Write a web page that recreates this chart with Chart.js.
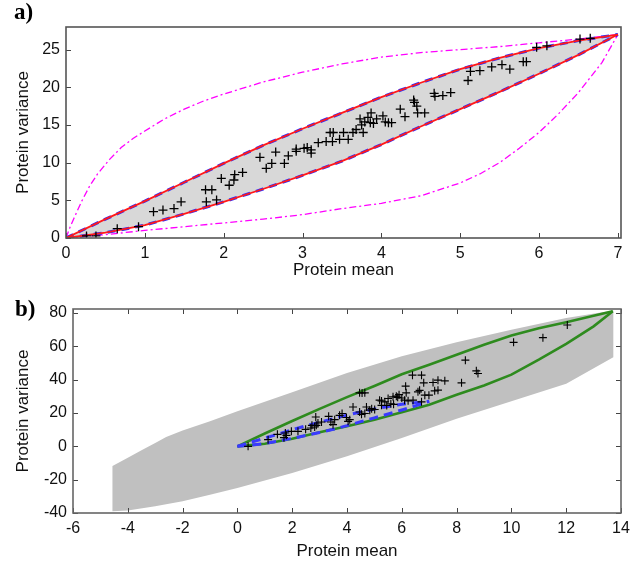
<!DOCTYPE html>
<html>
<head>
<meta charset="utf-8">
<script src="https://cdn.jsdelivr.net/npm/chart.js@4.4.1/dist/chart.umd.min.js"></script>
<style>
  html, body { margin: 0; padding: 0; background: #fff; }
  #wrap { position: relative; width: 644px; height: 564px; overflow: hidden; }
  canvas { position: absolute; left: 0; }
  .lab { position: absolute; font-family: "Liberation Serif", "Times New Roman", serif; font-weight: bold; font-size: 23px; color: #000; }
</style>
</head>
<body>
<div id="wrap">
  <canvas id="ca" width="644" height="282" style="top:0px"></canvas>
  <canvas id="cb" width="644" height="274" style="top:290px"></canvas>
  <div class="lab" style="left:14px; top:-1px;">a)</div>
  <div class="lab" style="left:15px; top:296px;">b)</div>
</div>
<script>
// ---------------- Panel a data ----------------
const aTicksX = [0, 1, 2, 3, 4, 5, 6, 7];
const aTicksY = [0, 5, 10, 15, 20, 25];

const aMean = [0.26,0.38,0.65,0.92,1.11,1.23,1.37,1.46,1.77,1.85,1.78,1.91,1.97,2.07,2.13,2.14,2.24,2.46,2.54,2.61,2.66,2.77,2.82,2.92,2.92,3.02,3.06,3.11,3.11,3.2,3.3,3.35,3.39,3.38,3.47,3.52,3.58,3.64,3.68,3.73,3.77,3.75,3.79,3.83,3.87,3.86,3.9,3.94,4.02,4.05,4.09,4.13,4.24,4.3,4.41,4.42,4.45,4.46,4.55,4.67,4.68,4.78,4.88,5.1,5.13,5.25,5.4,5.53,5.63,5.8,5.84,5.97,6.1,6.52,6.65];
const aVar  = [0.27,0.27,1.24,1.5,3.5,3.7,3.9,4.8,6.4,6.4,4.8,5.05,7.9,7.0,7.7,8.4,8.7,10.7,9.25,9.9,11.4,9.9,10.9,11.5,11.8,11.9,12.0,11.25,11.7,12.65,12.8,14.0,14.0,12.8,13.1,14.0,13.1,14.0,14.4,15.8,14.0,15.0,15.4,16.0,16.6,15.3,15.2,15.8,16.2,15.4,15.3,15.3,17.1,16.1,18.3,18.0,17.5,16.6,16.6,19.2,18.8,18.9,19.3,20.9,22.1,22.2,22.7,23.0,22.4,23.4,23.4,25.3,25.5,26.4,26.5];

const boundX     = [0,0.5,1,1.5,2,2.5,3,3.5,4,4.5,5,5.5,6,6.5,7];
const boundUpper = [0,2.5,4.9,7.4,9.9,12.3,14.5,16.6,18.7,20.6,22.4,23.9,25.2,26.2,27];
const boundLower = [0,0.7,1.7,3.2,4.8,6.5,8.3,10.2,12.4,14.8,17.1,19.4,21.8,24.3,27];

const magUpX = [0,0.05,0.1,0.2,0.3,0.4,0.55,0.7,0.85,1,1.25,1.5,1.75,2,2.5,3,3.5,4,4.5,5,5.5,6,6.5,7];
const magUpY = [0,1.4,2.6,4.9,6.9,8.5,10.4,12,13.2,14.2,15.8,17.1,18.2,19.1,20.7,22,23.1,24,24.6,25,25.4,25.9,26.4,27];
const magLoX = [0,0.5,1,1.5,2,2.5,3,3.5,4,4.5,5,5.25,5.5,5.75,6,6.25,6.5,6.8,7];
const magLoY = [0,0.45,1.0,1.5,2.0,2.5,3.1,3.9,4.6,5.6,7.3,8.5,10,11.9,14,16.5,19.3,23.3,27];

// ---------------- Panel b data ----------------
const bTicksX = [-6,-4,-2,0,2,4,6,8,10,12,14];
const bTicksY = [-40,-20,0,20,40,60,80];

const bMean = [0.39,1.12,1.46,1.7,1.79,1.75,1.97,2.21,2.49,2.68,2.72,2.82,2.88,2.86,2.94,3.07,3.33,3.41,3.49,3.55,3.73,3.82,3.98,4.1,4.04,4.22,4.46,4.53,4.65,4.71,4.83,4.46,4.65,4.55,5.01,5.26,5.26,5.19,5.38,5.5,5.68,5.8,5.85,6.14,6.16,6.39,6.72,6.59,6.65,6.8,6.84,6.99,7.14,7.2,7.32,7.32,7.57,8.18,8.32,8.72,8.78,10.08,11.15,12.04,6.1,6.23,6.41,6.72,5.6,5.45,5.9,6.0,4.9,5.7];
const bVar  = [0,4.0,7.2,5.2,6.6,8.0,9.0,9.0,10.2,11.0,12.6,11.6,12.6,17.6,14.0,14.6,18.0,14.6,13.0,16.0,18.6,19.7,17.3,16.0,15.0,23.6,20.6,19.2,19.7,23.6,21.7,32.1,32.1,32.0,22.1,27.2,24.6,27.7,26.7,28.7,29.7,30.1,29.4,36.1,32.1,42.7,42.7,32.7,33.6,38.1,30.7,30.7,38.3,33.3,33.7,39.7,39.3,38.1,51.7,45.3,43.7,62.4,65.2,72.8,27.7,27.3,27.7,26.7,25.5,24.5,31,29,22.6,25.2];

const greenX     = [0,1,2,3,4,5,6,7,8,9,10,11,12,13,13.7];
const greenUpper = [0,7.7,15.2,22.5,29.5,36.2,43.2,49,55,61,66.5,70.8,74.5,78.3,81];
const greenLower = [0,1.5,4.5,8.5,12,16,20.5,25,31,36.5,43,52,61.5,72,81];

const bandUpX = [-4.56,-4,-3.5,-3,-2.6,-2,-1,0,2,4,6,8,10,12,13.72];
const bandUpY = [-11.8,-6.8,-2.3,2.0,5.6,9.5,15,21,32.5,44,54,62.5,70,77,81.5];
const bandLoX = [-4.56,-4,-3,-2,-1,0,2,4,6,8,10,12,13.72];
const bandLoY = [-39,-38.5,-36,-33,-29,-25,-16,-6,5,16.5,27,37.5,53.5];

// ---------------- helpers ----------------
const pts = (xs, ys) => xs.map((x, i) => ({ x: x, y: ys[i] }));
const polygon = (ux, uy, lx, ly) => pts(ux, uy).concat(pts(lx, ly).reverse());

const frameTicks = {
  id: 'frameTicks',
  afterDatasetsDraw(chart, args, opts) {
    const { ctx, chartArea: a, scales: { x, y } } = chart;
    const L = opts.len;
    ctx.save();
    ctx.strokeStyle = opts.tickColor;
    ctx.lineWidth = 1;
    ctx.beginPath();
    x.ticks.forEach(t => {
      const p = Math.round(x.getPixelForValue(t.value)) + 0.5;
      ctx.moveTo(p, a.bottom); ctx.lineTo(p, a.bottom - L);
      if (opts.all) { ctx.moveTo(p, a.top); ctx.lineTo(p, a.top + L); }
    });
    y.ticks.forEach(t => {
      const p = Math.round(y.getPixelForValue(t.value)) + 0.5;
      ctx.moveTo(a.left, p); ctx.lineTo(a.left + L, p);
      if (opts.all) { ctx.moveTo(a.right, p); ctx.lineTo(a.right - L, p); }
    });
    ctx.stroke();
    ctx.strokeStyle = opts.color;
    ctx.lineWidth = opts.width;
    ctx.strokeRect(a.left, a.top, a.right - a.left, a.bottom - a.top);
    ctx.restore();
  }
};

const tickFont = { family: '"Liberation Sans", Arial, sans-serif', size: 16 };
const titleFont = { family: '"Liberation Sans", Arial, sans-serif', size: 17 };

function scale(min, max, tickVals, title, fitSize, isY, tickPad, titlePad) {
  return {
    type: 'linear', min: min, max: max,
    grid: { display: false, drawTicks: false },
    border: { display: false },
    ticks: { font: tickFont, color: '#111', padding: tickPad, includeBounds: false },
    afterBuildTicks: s => { s.ticks = tickVals.map(v => ({ value: v })); },
    afterFit: s => { if (isY) s.width = fitSize; else s.height = fitSize; },
    title: { display: true, text: title, font: titleFont, color: '#111', padding: titlePad }
  };
}

const common = {
  responsive: false, animation: false, events: [],
  plugins: { legend: { display: false }, tooltip: { enabled: false } },
  elements: { line: { tension: 0 }, point: { radius: 0 } }
};

// ---------------- Chart a ----------------
new Chart(document.getElementById('ca'), {
  type: 'scatter',
  data: { datasets: [
    { data: polygon(boundX, boundUpper, boundX, boundLower), showLine: true, fill: 'shape',
      backgroundColor: '#d8d8d8', borderWidth: 0, pointRadius: 0, order: 10 },
    { data: pts(magUpX, magUpY), showLine: true, borderColor: '#ff00ff', borderWidth: 1.3, borderDash: [7, 3, 2, 3], pointRadius: 0, order: 8 },
    { data: pts(magLoX, magLoY), showLine: true, borderColor: '#ff00ff', borderWidth: 1.3, borderDash: [7, 3, 2, 3], pointRadius: 0, order: 8 },
    { data: pts(boundX, boundUpper), showLine: true, borderColor: '#2a2aff', borderWidth: 3, borderDash: [8, 6], pointRadius: 0, order: 6 },
    { data: pts(boundX, boundLower), showLine: true, borderColor: '#2a2aff', borderWidth: 3, borderDash: [8, 6], pointRadius: 0, order: 6 },
    { data: pts(boundX, boundUpper), showLine: true, borderColor: '#ff1a1a', borderWidth: 1.8, pointRadius: 0, order: 4 },
    { data: pts(boundX, boundLower), showLine: true, borderColor: '#ff1a1a', borderWidth: 1.8, pointRadius: 0, order: 4 },
    { data: pts(aMean, aVar), showLine: false, pointStyle: 'cross', pointRadius: 4.5, borderColor: '#000', borderWidth: 1.3, order: 0 }
  ]},
  options: Object.assign({}, common, {
    layout: { padding: { left: 0, right: 23, top: 27, bottom: 0 } },
    scales: {
      x: scale(0, 7.04, aTicksX, 'Protein mean', 44, false, 6, { top: 0, bottom: 1 }),
      y: scale(0, 28, aTicksY, 'Protein variance', 66, true, 6, { top: 13, bottom: 0 })
    },
    plugins: Object.assign({}, common.plugins, { frameTicks: { len: 5, all: false, color: '#555', tickColor: '#444', width: 1.6 } })
  }),
  plugins: [frameTicks]
});

// ---------------- Chart b ----------------
new Chart(document.getElementById('cb'), {
  type: 'scatter',
  data: { datasets: [
    { data: polygon(bandUpX, bandUpY, bandLoX, bandLoY), showLine: true, fill: 'shape',
      backgroundColor: '#c0c0c0', borderWidth: 0, pointRadius: 0, order: 10 },
    { data: pts(greenX, greenUpper), showLine: true, borderColor: '#2e8b1e', borderWidth: 2.6, pointRadius: 0, order: 6 },
    { data: pts(greenX, greenLower), showLine: true, borderColor: '#2e8b1e', borderWidth: 2.6, pointRadius: 0, order: 6 },
    { data: pts(boundX, boundUpper), showLine: true, borderColor: '#3a3aff', borderWidth: 3, borderDash: [9, 6], pointRadius: 0, order: 4 },
    { data: pts(boundX, boundLower), showLine: true, borderColor: '#3a3aff', borderWidth: 3, borderDash: [9, 6], pointRadius: 0, order: 4 },
    { data: pts(bMean, bVar), showLine: false, pointStyle: 'cross', pointRadius: 4, borderColor: '#000', borderWidth: 1.1, order: 0 }
  ]},
  options: Object.assign({}, common, {
    layout: { padding: { left: 0, right: 23, top: 19, bottom: 0 } },
    scales: {
      x: scale(-6, 14, bTicksX, 'Protein mean', 51, false, 6, { top: 0, bottom: 2 }),
      y: scale(-40, 82.4, bTicksY, 'Protein variance', 73, true, 6, { top: 13, bottom: 0 })
    },
    plugins: Object.assign({}, common.plugins, { frameTicks: { len: 5, all: true, color: '#666', tickColor: '#444', width: 1.6 } })
  }),
  plugins: [frameTicks]
});
</script>
</body>
</html>
